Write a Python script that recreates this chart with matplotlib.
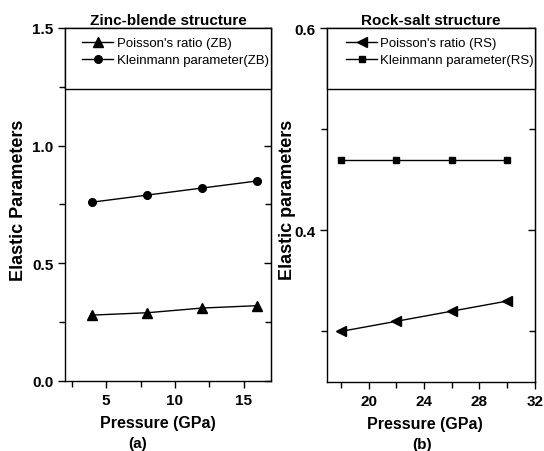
import matplotlib
matplotlib.use("Agg")
import matplotlib.pyplot as plt
from matplotlib.patches import Rectangle
from matplotlib.ticker import MultipleLocator

plt.rcParams["font.family"] = ["Liberation Sans", "DejaVu Sans"]

# zinc-blende phase
p_zb = [4, 8, 12, 16]
poisson_zb = [0.28, 0.29, 0.31, 0.32]
kleinmann_zb = [0.76, 0.79, 0.82, 0.85]

# rock-salt phase
p_rs = [18, 22, 26, 30]
poisson_rs = [0.30, 0.31, 0.32, 0.33]
kleinmann_rs = [0.47, 0.47, 0.47, 0.47]

fig = plt.figure(figsize=(5.44, 4.52), dpi=100)
ax_a = fig.add_axes([0.1195, 0.1549, 0.3787, 0.781])
ax_b = fig.add_axes([0.601, 0.1527, 0.382, 0.783])


def style_panel(ax, title, ylabel, tag, ymaj, ymin, xmaj, xmin, pos):
    xl_x, ylab_x, tag_x, leg_x = pos
    ax.set_title(title, fontsize=11, fontweight="bold", pad=3)
    ax.text(xl_x, -0.117, "Pressure (GPa)", transform=ax.transAxes,
            ha="center", va="center", fontsize=11.5, fontweight="bold")
    ax.text(tag_x, -0.175, tag, transform=ax.transAxes, ha="center",
            va="center", fontsize=11, fontweight="bold")
    ax.text(ylab_x, 0.516, ylabel, transform=ax.transAxes, rotation=90,
            ha="center", va="center", fontsize=13, fontweight="bold")
    ax.xaxis.set_major_locator(MultipleLocator(xmaj))
    ax.xaxis.set_minor_locator(MultipleLocator(xmin))
    ax.yaxis.set_major_locator(MultipleLocator(ymaj))
    ax.yaxis.set_minor_locator(MultipleLocator(ymin))
    ax.tick_params(which="both", direction="out", top=False, right=False,
                   labelsize=11, width=1)
    ax.tick_params(which="major", length=5)
    ax.tick_params(which="minor", length=4)
    for lab in ax.get_xticklabels() + ax.get_yticklabels():
        lab.set_fontweight("bold")
    # right-hand ticks point inward
    sec = ax.secondary_yaxis("right")
    sec.yaxis.set_major_locator(MultipleLocator(ymaj))
    sec.yaxis.set_minor_locator(MultipleLocator(ymin))
    sec.tick_params(which="both", direction="in", labelright=False, width=1)
    sec.tick_params(which="major", length=5)
    sec.tick_params(which="minor", length=4)
    for s in ax.spines.values():
        s.set_linewidth(1)
    # legend box across the top of the panel
    ax.add_patch(Rectangle((0, 0.827), 1, 0.173, transform=ax.transAxes,
                           facecolor="white", edgecolor="black", lw=1,
                           zorder=5, clip_on=False))
    leg = ax.legend(loc="upper left", bbox_to_anchor=(leg_x, 0.989),
                    frameon=False, fontsize=9.5, handlelength=2.35,
                    handletextpad=0.25, labelspacing=0.36, borderaxespad=0)
    leg.set_zorder(6)


ax_a.plot(p_zb, poisson_zb, color="black", lw=1, marker="^", ms=7,
          label="Poisson's ratio (ZB)")
ax_a.plot(p_zb, kleinmann_zb, color="black", lw=1, marker="o", ms=5.5,
          label="Kleinmann parameter(ZB)")
ax_a.set_xlim(2, 17)
ax_a.set_ylim(0, 1.5)
style_panel(ax_a, "Zinc-blende structure", "Elastic Parameters", "(a)",
            0.5, 0.25, 5, 2.5, (0.451, -0.228, 0.354, 0.058))

ax_b.plot(p_rs, poisson_rs, color="black", lw=1, marker="<", ms=6.5,
          label="Poisson's ratio (RS)")
ax_b.plot(p_rs, kleinmann_rs, color="black", lw=1, marker="s", ms=5,
          label="Kleinmann parameter(RS)")
ax_b.set_xlim(17, 32)
ax_b.set_ylim(0.25, 0.6)
style_panel(ax_b, "Rock-salt structure", "Elastic parameters", "(b)",
            0.2, 0.1, 4, 2, (0.471, -0.192, 0.46, 0.067))

fig.savefig("out.png", dpi=100)
